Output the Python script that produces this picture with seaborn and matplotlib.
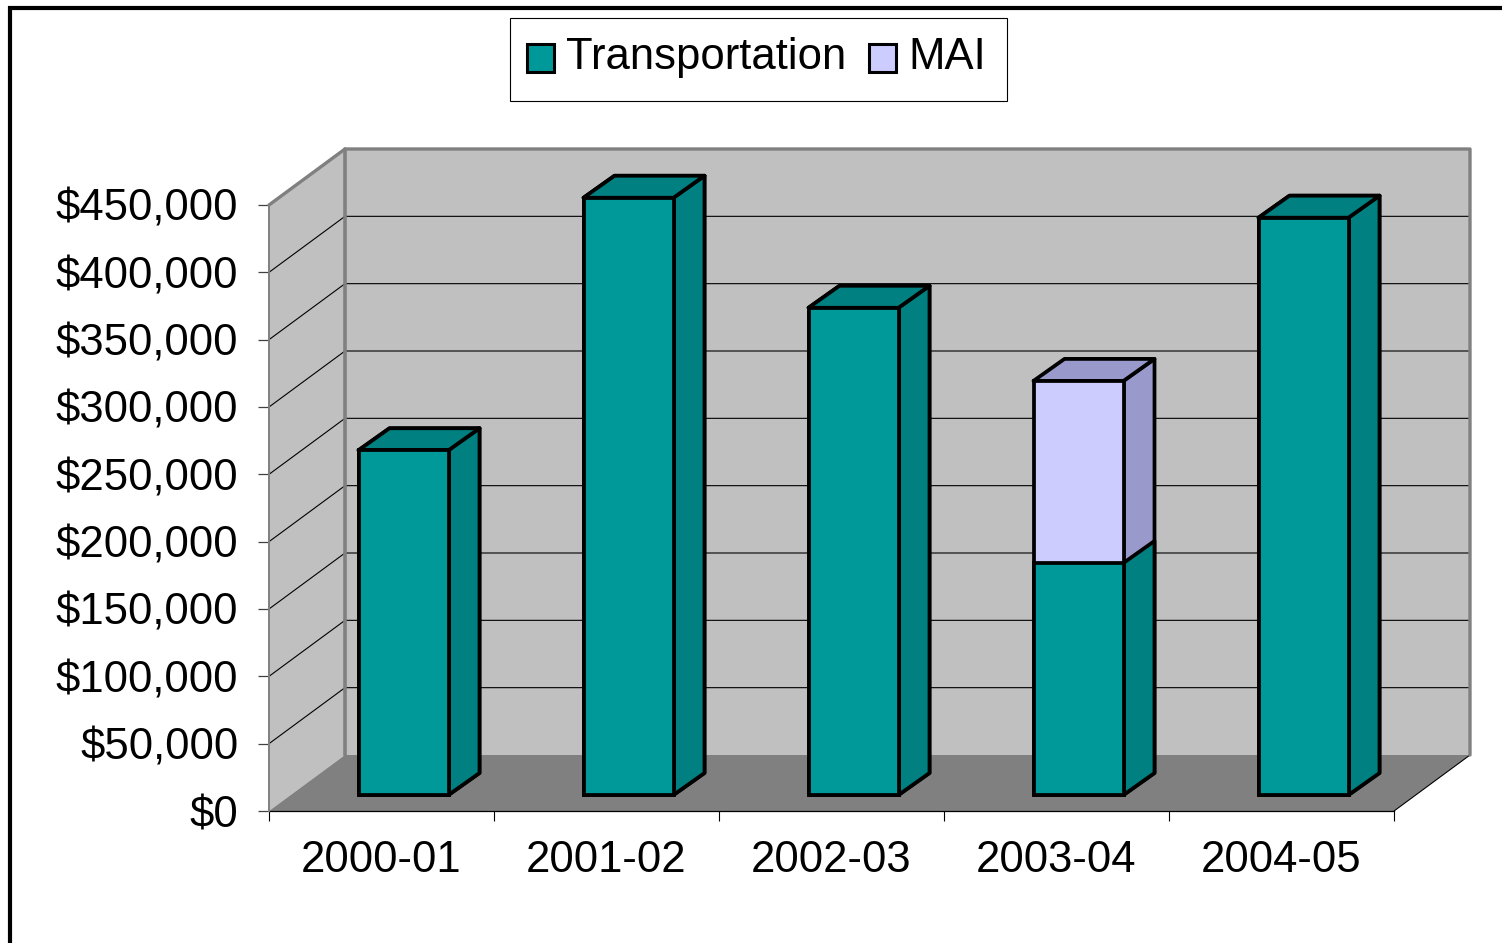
import pandas as pd
import matplotlib.pyplot as plt
import seaborn as sns
from matplotlib.lines import Line2D
from matplotlib.patches import Polygon, Rectangle

years = ["2000-01", "2001-02", "2002-03", "2003-04", "2004-05"]
transportation = [256000, 443500, 361800, 172300, 428700]
mai = [0, 0, 0, 135200, 0]
y_ticks = [0, 50000, 100000, 150000, 200000, 250000, 300000, 350000, 400000, 450000]

TEAL, TEAL_DARK = "#009999", "#008080"
LILAC, LILAC_DARK = "#CCCCFF", "#9999CC"
WALL, FLOOR, EDGE = "#C0C0C0", "#808080", "#808080"
BAR_LW = 2.7

# one pixel in data units
PX = 5 / 1125
PY = 450000 / 606

# fake 3d depth, in pixels
WALL_DX, WALL_DY = 76 * PX, 56 * PY
BAR_X, BAR_Y = 22 * PX, 16 * PY
BAR_DX, BAR_DY = 31 * PX, 22 * PY

sns.set_theme(style="white")
plt.rcParams["font.family"] = ["Liberation Sans", "DejaVu Sans"]

df = pd.DataFrame({"year": years, "transportation": transportation, "mai": mai})
df["total"] = df["transportation"] + df["mai"]

fig = plt.figure(figsize=(15.02, 9.43), dpi=100)
ax = fig.add_axes([269 / 1502, 132 / 943, 1125 / 1502, 606 / 943])
ax.patch.set_alpha(0)

bar_kws = dict(x="year", width=0.4, saturation=1, edgecolor="black", linewidth=BAR_LW, ax=ax, zorder=3)
sns.barplot(data=df, y="total", color=LILAC, label="MAI", **bar_kws)
sns.barplot(data=df, y="transportation", color=TEAL, label="Transportation", **bar_kws)
bars = list(ax.patches)

ax.set_xlim(-0.5, 4.5)
ax.set_ylim(0, 450000)
x0, x1, top = -0.5, 4.5, 450000

# walls and floor
left_wall = [(x0, 0), (x0 + WALL_DX, WALL_DY), (x0 + WALL_DX, top + WALL_DY), (x0, top)]
back_wall = [(x0 + WALL_DX, WALL_DY), (x1 + WALL_DX, WALL_DY), (x1 + WALL_DX, top + WALL_DY), (x0 + WALL_DX, top + WALL_DY)]
floor = [(x0, 0), (x1, 0), (x1 + WALL_DX, WALL_DY), (x0 + WALL_DX, WALL_DY)]
ax.add_patch(Polygon(left_wall, fc=WALL, ec="none", zorder=0.5, clip_on=False))
ax.add_patch(Polygon(back_wall, fc=WALL, ec="none", zorder=0.5, clip_on=False))

for v in y_ticks[1:-1]:
    ax.plot([x0, x0 + WALL_DX, x1 + WALL_DX], [v, v + WALL_DY, v + WALL_DY],
            color="black", lw=0.8, zorder=0.7, clip_on=False)

ax.add_patch(Polygon(floor, fc=FLOOR, ec="none", zorder=0.8, clip_on=False))
ax.plot([x1, x1 + WALL_DX], [0, WALL_DY], color="black", lw=0.8, zorder=0.9, clip_on=False)
ax.plot([x0, x0 + WALL_DX, x1 + WALL_DX, x1 + WALL_DX], [top, top + WALL_DY, top + WALL_DY, WALL_DY],
        color=EDGE, lw=2.4, zorder=0.9, clip_on=False)
ax.plot([x0 + WALL_DX, x0 + WALL_DX], [WALL_DY, top + WALL_DY], color=EDGE, lw=2.6, zorder=0.9, clip_on=False)

# push the bars back and add side + top faces
n = len(years)
for i, bar in enumerate(bars):
    is_mai = i < n
    bar.set_clip_on(False)
    bar.set_joinstyle("miter")
    bar.set_x(bar.get_x() + BAR_X)
    bar.set_y(bar.get_y() + BAR_Y)
    dark = LILAC_DARK if is_mai else TEAL_DARK
    l, r = bar.get_x(), bar.get_x() + bar.get_width()
    b, t = bar.get_y(), bar.get_y() + bar.get_height()
    z = 2 + i * 0.01
    side = [(r, b), (r + BAR_DX, b + BAR_DY), (r + BAR_DX, t + BAR_DY), (r, t)]
    roof = [(l, t), (r, t), (r + BAR_DX, t + BAR_DY), (l + BAR_DX, t + BAR_DY)]
    ax.add_patch(Polygon(side, fc=dark, ec="black", lw=BAR_LW, joinstyle="round", zorder=z, clip_on=False))
    # a stacked segment has no visible roof
    if is_mai or mai[i - n] == 0:
        ax.add_patch(Polygon(roof, fc=dark, ec="black", lw=BAR_LW, joinstyle="round", zorder=z, clip_on=False))

# axes
sns.despine(ax=ax, top=True, right=True)
ax.spines["bottom"].set_linewidth(0.9)
ax.spines["bottom"].set_color("black")
ax.spines["bottom"].set_zorder(1)
ax.spines["left"].set_linewidth(1.4)
ax.spines["left"].set_color(EDGE)
ax.set_xlabel("")
ax.set_ylabel("")
ax.set_yticks(y_ticks)
ax.set_yticklabels([f"${v:,.0f}" for v in y_ticks], fontsize=31.4, color="black")
ax.set_xticks(range(len(years)))
ax.set_xticklabels(years, fontsize=31.4, color="black")
ax.set_xticks([x0 + i for i in range(6)], minor=True)
ax.tick_params(axis="x", which="major", length=0, pad=21)
ax.tick_params(axis="x", which="minor", bottom=True, length=7.5, width=0.8, color="black")
ax.tick_params(axis="y", left=True, length=8, width=0.9, color="#404040", pad=14)

# legend, Transportation first
handles, labels = ax.get_legend_handles_labels()
order = [labels.index("Transportation"), labels.index("MAI")]
fig.add_artist(Rectangle((510 / 1502, 1 - 101 / 943), 497 / 1502, 83 / 943, fc="white", ec="black", lw=0.8,
                         transform=fig.transFigure, zorder=-1))
leg = ax.legend([handles[i] for i in order], [labels[i] for i in order], ncol=2,
                loc="upper left", bbox_to_anchor=(527 / 1502, 1 - 37 / 943), bbox_transform=fig.transFigure,
                fontsize=31.4, frameon=False, labelcolor="black",
                handlelength=0.62, handleheight=0.62, handletextpad=0.28, columnspacing=0.52,
                borderpad=0, borderaxespad=0)
for h in leg.legend_handles:
    h.set_linewidth(2.2)
    h.set_y(h.get_y() - 3)

# outer chart border, cut by the right and bottom of the image
fig.add_artist(Line2D([10 / 1502, 10 / 1502, 1], [0, 1 - 8 / 943, 1 - 8 / 943], color="black", lw=3,
                      solid_joinstyle="miter", transform=fig.transFigure))

fig.savefig("out.png", dpi=100)
